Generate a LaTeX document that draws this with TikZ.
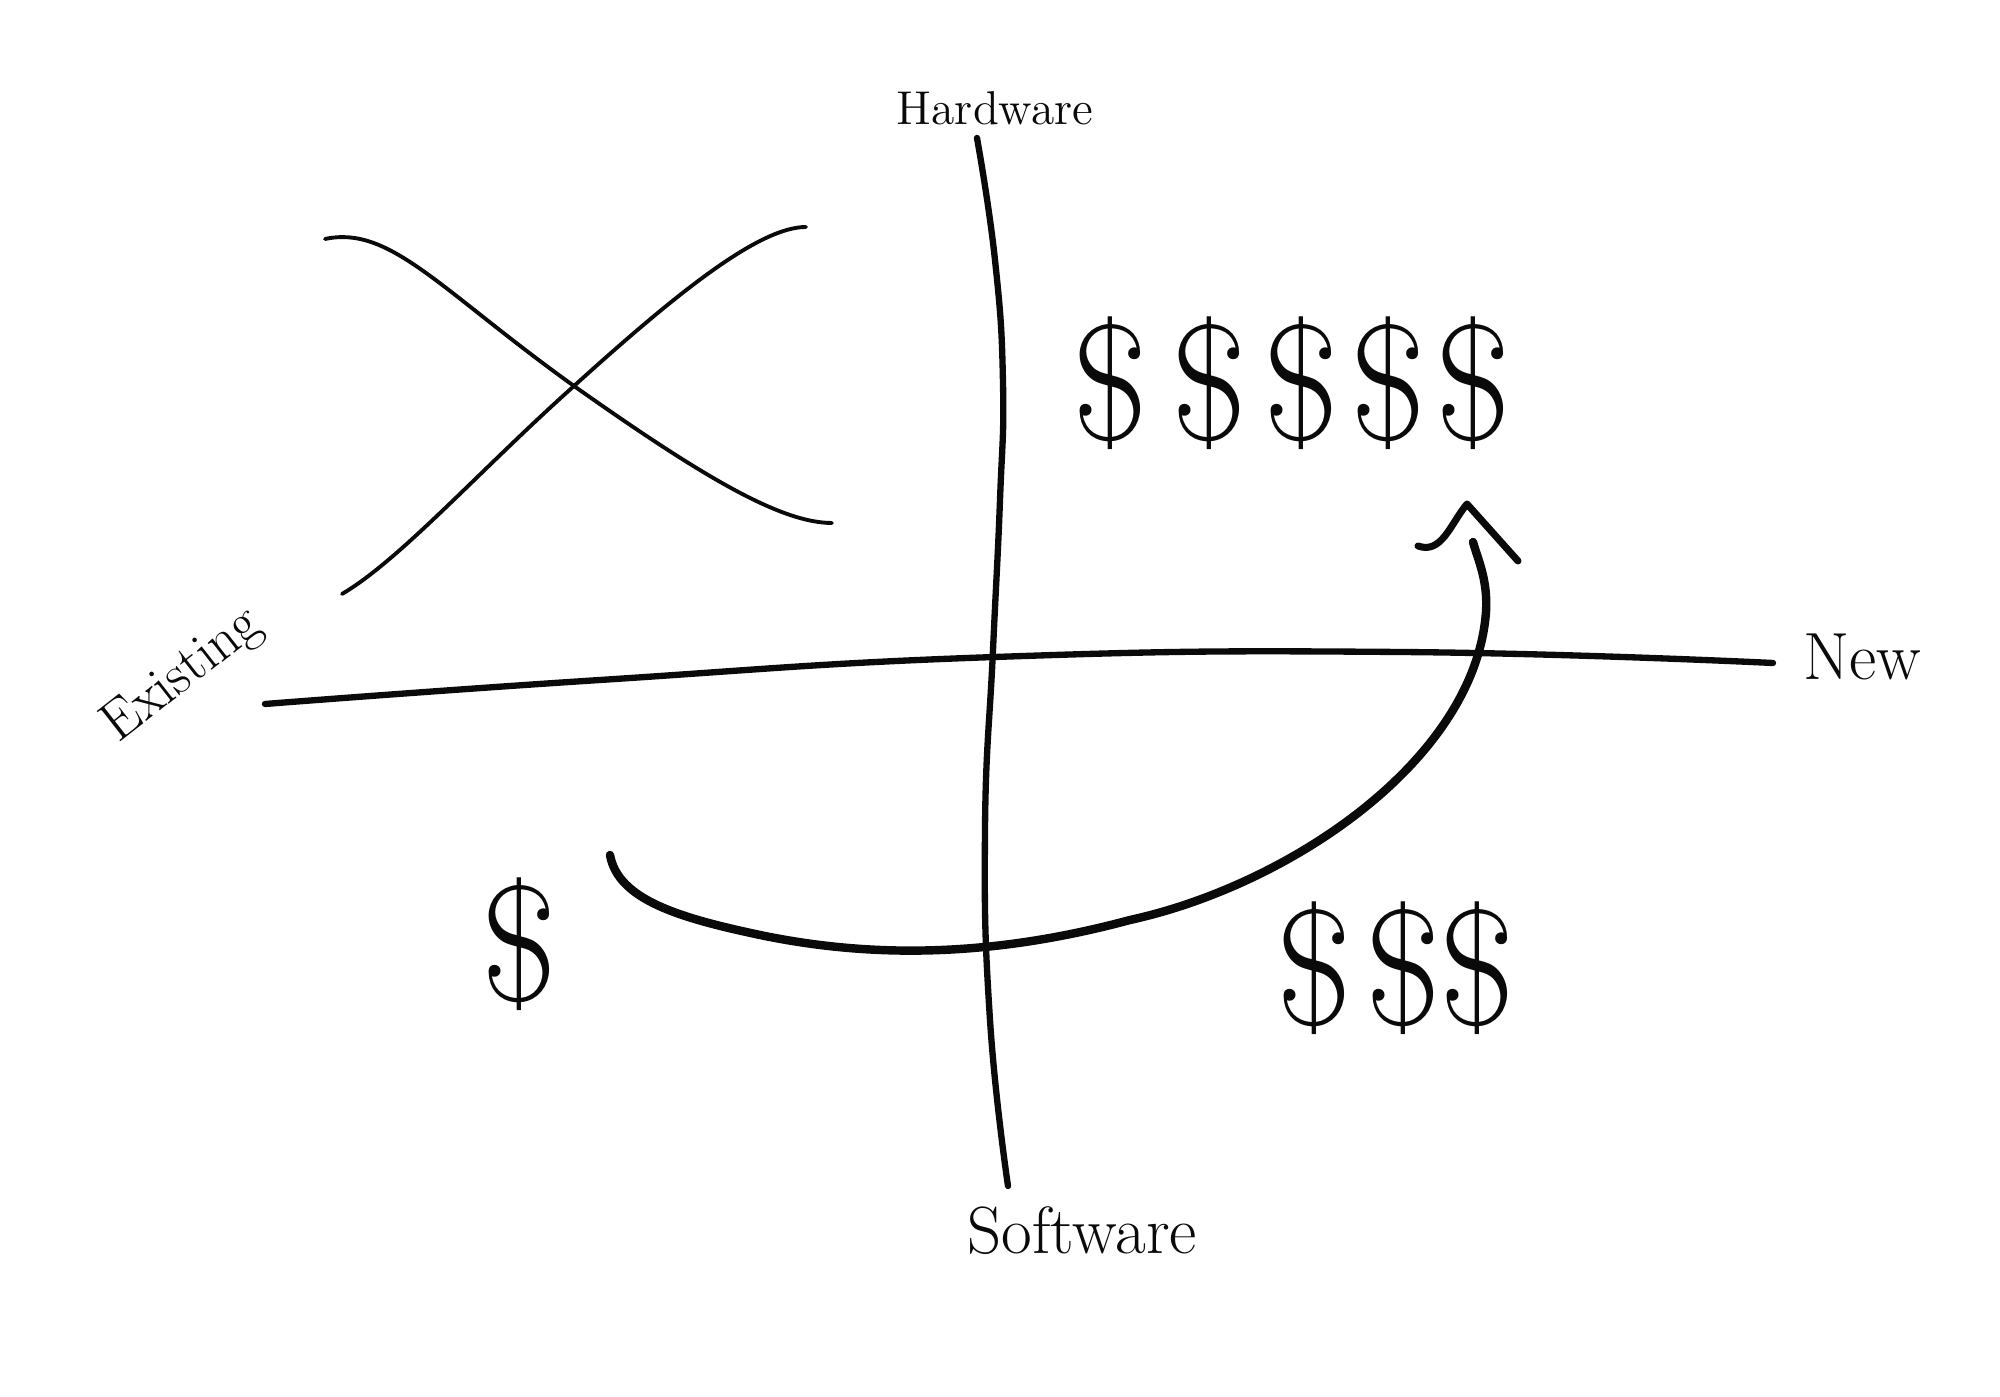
\documentclass[tikz,border=0pt]{standalone}
\usepackage{tikz}
\usetikzlibrary{positioning}
\definecolor{inkBlack}{RGB}{10,10,10}
\tikzset{
  axisline/.style={draw=inkBlack, line width=1.8pt, line cap=round},
  thinline/.style={draw=inkBlack, line width=1.1pt, line cap=round},
  pathline/.style={draw=inkBlack, line width=2.4pt, line cap=round, line join=round},
  axislabel/.style={text=inkBlack, inner sep=0pt},
  dollar/.style={text=inkBlack, inner sep=0pt, font=\fontsize{47}{47}\selectfont}
}

\begin{document}
\begin{tikzpicture}[x=0.1mm, y=-0.1mm]
    \useasboundingbox (0,0) rectangle (2000,1397);

    % axes
    \draw[axisline] plot[smooth, tension=0.8] coordinates
        {(977,138) (995,260) (1003,383) (1000,500) (993,650) (985,830) (990,1020) (1008,1186)};
    \draw[axisline] plot[smooth, tension=0.8] coordinates
        {(265,704) (600,680) (995,657) (1400,652) (1773,663)};

    \node[axislabel, font=\fontsize{13.5}{14}\selectfont] (hw) at (995,108) {Hardware};
    \node[axislabel, font=\fontsize{19}{20}\selectfont] (sw) at (1082,1231) {Software};
    \node[axislabel, font=\fontsize{19}{20}\selectfont] (new) at (1862,657) {New};
    \node[axislabel, font=\fontsize{16}{17}\selectfont, rotate=38] (exist) at (183,676) {Existing};

    % crossed curves
    \draw[thinline] (325,239) .. controls (390,225) and (440,290) .. (574,386)
        .. controls (700,475) and (780,523) .. (832,523);
    \draw[thinline] (342,594) .. controls (400,560) and (480,470) .. (574,386)
        .. controls (680,290) and (760,227) .. (806,227);

    % path with arrow
    \draw[pathline] (610,855) .. controls (618,900) and (680,918) .. (760,935)
        .. controls (880,960) and (1000,955) .. (1130,920)
        .. controls (1290,885) and (1475,760) .. (1486,612)
        .. controls (1488,580) and (1478,560) .. (1473,542);
    \draw[pathline, line width=2pt] (1418,546) to[out=-20, in=230] (1467,504) -- (1518,561);

    % money
    \foreach \x [count=\i] in {1110,1209,1301,1388,1473}
        \node[dollar] (top\i) at (\x,383) {\$};
    \foreach \x [count=\i] in {1314,1403,1477}
        \node[dollar] (low\i) at (\x,968) {\$};
    \node[dollar] (one) at (519,944) {\$};
\end{tikzpicture}
\end{document}
